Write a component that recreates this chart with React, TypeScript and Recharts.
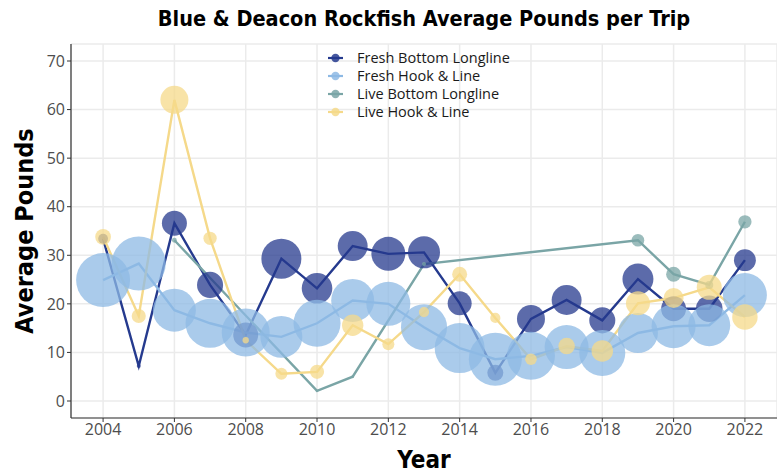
import React from 'react';
import { CartesianGrid, ComposedChart, Legend, Line, Scatter, XAxis, YAxis, ZAxis } from 'recharts';

document.body.style.margin = '0';

// years on the x axis
const years = [
  2004, 2005, 2006, 2007, 2008, 2009, 2010, 2011, 2012, 2013, 2014, 2015, 2016, 2017, 2018, 2019,
  2020, 2021, 2022,
];
const liveBottomYears = [2006, 2010, 2011, 2013, 2019, 2020, 2021, 2022];

// average pounds per trip
const freshBottomPounds = [
  33.4, 7.2, 36.6, 23.9, 13.6, 29.3, 23.2, 31.9, 30.3, 30.6, 20.1, 5.8, 16.9, 20.8, 16.6, 25.1, 19.0,
  19.0, 29.0,
];
const freshHookPounds = [
  24.9, 28.3, 18.7, 16.0, 14.1, 13.2, 16.0, 20.7, 20.0, 15.2, 10.9, 8.6, 9.3, 11.1, 9.9, 14.0, 15.4,
  15.6, 21.8,
];
const liveBottomPounds = [33.1, 2.1, 5.0, 28.2, 33.1, 26.1, 23.9, 36.9];
const liveHookPounds = [
  33.8, 17.5, 62.0, 33.5, 12.5, 5.6, 6.0, 15.6, 11.7, 18.3, 26.1, 17.1, 8.6, 11.3, 10.3, 20.1, 21.2,
  23.4, 17.3,
];

// number of trips (bubble size)
const freshBottomTrips = [12, 2, 78, 85, 78, 200, 117, 112, 144, 128, 72, 32, 98, 112, 85, 120, 78, 88, 60];
const freshHookTrips = [
  364, 364, 231, 300, 288, 220, 276, 231, 242, 265, 312, 351, 288, 242, 265, 200, 242, 220, 242,
];
const liveBottomTrips = [3, 1, 1, 2, 20, 28, 8, 22];
const liveHookTrips = [31, 25, 98, 22, 5, 18, 25, 57, 18, 13, 28, 13, 17, 34, 58, 72, 50, 78, 81];

const xTicks = [2004, 2006, 2008, 2010, 2012, 2014, 2016, 2018, 2020, 2022];
const yTicks = [0, 10, 20, 30, 40, 50, 60, 70];

const toRows = (ys: number[], pounds: number[], trips: number[]) =>
  ys.map((year, i) => ({ year, pounds: pounds[i], trips: trips[i] }));

const series = [
  { name: 'Fresh Bottom Longline', color: '#253A8E', data: toRows(years, freshBottomPounds, freshBottomTrips) },
  { name: 'Fresh Hook & Line', color: '#8DB9E4', data: toRows(years, freshHookPounds, freshHookTrips) },
  { name: 'Live Bottom Longline', color: '#7AA5A6', data: toRows(liveBottomYears, liveBottomPounds, liveBottomTrips) },
  { name: 'Live Hook & Line', color: '#F5D98A', data: toRows(years, liveHookPounds, liveHookTrips) },
];

const font = '"Open Sans", "Noto Sans", sans-serif';
const titleFont = '"Liberation Sans Narrow", "DejaVu Sans Condensed", "Open Sans", sans-serif';

const LegendBox = () => (
  <div style={{ fontFamily: font, fontSize: 14.5, color: '#1A1A1A', lineHeight: '18px' }}>
    {series.map((s) => (
      <div key={s.name} style={{ display: 'flex', alignItems: 'center', height: 18 }}>
        <svg width={29} height={18}>
          <line x1={0} x2={15} y1={9} y2={9} stroke={s.color} strokeWidth={2.2} />
          <circle cx={7.5} cy={9} r={4.2} fill={s.color} fillOpacity={0.85} />
        </svg>
        <span>{s.name}</span>
      </div>
    ))}
  </div>
);

const YTitle = ({ viewBox }: any) => {
  const cx = viewBox.x + 24;
  const cy = viewBox.y + viewBox.height / 2;
  return (
    <text
      x={cx}
      y={cy}
      transform={`rotate(-90, ${cx}, ${cy})`}
      textAnchor="middle"
      dominantBaseline="central"
      style={{ fontFamily: titleFont, fontWeight: 700, fontSize: 25, fill: '#000' }}
    >
      Average Pounds
    </text>
  );
};

export default function App() {
  return (
    <div style={{ position: 'relative', width: 777, height: 475, background: '#fff' }}>
      <div
        style={{
          position: 'absolute',
          top: 6,
          left: 71,
          width: 706,
          textAlign: 'center',
          fontFamily: titleFont,
          fontWeight: 700,
          fontSize: 21.5,
          color: '#000',
        }}
      >
        Blue &amp; Deacon Rockfish Average Pounds per Trip
      </div>
      <ComposedChart width={777} height={475} margin={{ top: 44, right: 0, bottom: 0, left: 0 }}>
        <CartesianGrid stroke="#EBEBEB" strokeWidth={1.5} />
        <XAxis
          dataKey="year"
          type="number"
          domain={[2003.1, 2022.9]}
          ticks={xTicks}
          allowDataOverflow
          height={57}
          tickSize={4}
          tickLine={{ stroke: '#333' }}
          axisLine={{ stroke: '#333', strokeWidth: 1.2 }}
          tick={{ fill: '#4D4D4D', fontSize: 16, fontFamily: font }}
          label={{
            value: 'Year',
            position: 'insideBottom',
            offset: 7,
            style: { fontFamily: titleFont, fontWeight: 700, fontSize: 24, fill: '#000' },
          }}
        />
        <XAxis
          xAxisId="top"
          orientation="top"
          dataKey="year"
          type="number"
          domain={[2003.1, 2022.9]}
          height={0}
          tick={false}
          tickLine={false}
          axisLine={{ stroke: '#333', strokeWidth: 1.2 }}
        />
        <YAxis
          dataKey="pounds"
          type="number"
          domain={[-3.5, 73.5]}
          ticks={yTicks}
          allowDataOverflow
          width={71}
          tickSize={4}
          tickLine={{ stroke: '#333' }}
          axisLine={{ stroke: '#333', strokeWidth: 1.2 }}
          tick={{ fill: '#4D4D4D', fontSize: 16, fontFamily: font }}
          label={<YTitle />}
        />
        <ZAxis dataKey="trips" type="number" domain={[0, 400]} range={[0, 2513]} />
        <Legend
          layout="vertical"
          align="center"
          verticalAlign="middle"
          wrapperStyle={{ top: 49, left: 328, width: 220 }}
          content={() => <LegendBox />}
        />
        {series.map((s) => (
          <Line
            key={`line-${s.name}`}
            data={s.data}
            dataKey="pounds"
            name={s.name}
            stroke={s.color}
            strokeWidth={2.4}
            dot={false}
            activeDot={false}
            legendType="none"
            isAnimationActive={false}
          />
        ))}
        {series.map((s) => (
          <Scatter
            key={`pts-${s.name}`}
            data={s.data}
            dataKey="pounds"
            name={s.name}
            fill={s.color}
            fillOpacity={0.75}
            legendType="none"
            isAnimationActive={false}
          />
        ))}
      </ComposedChart>
    </div>
  );
}
